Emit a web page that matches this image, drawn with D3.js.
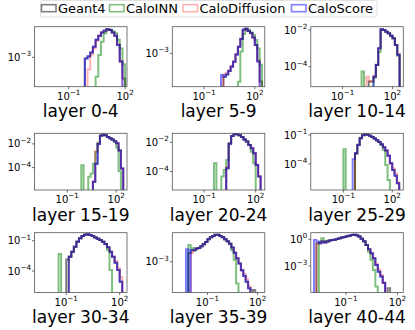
<!DOCTYPE html>
<html><head><meta charset="utf-8">
<script src="https://cdn.jsdelivr.net/npm/d3@7"></script>
<style>body{margin:0;background:#fff} svg{display:block} text{font-family:"DejaVu Sans",sans-serif;fill:#000}</style>
</head><body><svg id="chart" width="415" height="330"></svg>
<script>
const layers = ["layer 0-4","layer 5-9","layer 10-14","layer 15-19","layer 20-24","layer 25-29","layer 30-34","layer 35-39","layer 40-44"];
const seriesNames = ["Geant4","CaloINN","CaloDiffusion","CaloScore"];
const binsPerDecade = 7;
const firstBin = [-1, 0, 1, -1, -3, -7, -10, -16, -20];

const geant4 = [
 [9.3e-4,1.05e-3,1.38e-3,2.0e-3,3.16e-3,4.17e-3,5.13e-3,5.75e-3,6.31e-3,6.03e-3,5.13e-3,4.17e-3,2.24e-3,7.6e-4,2.5e-4],
 [0,2.14e-4,2.5e-4,3.16e-4,4.17e-4,5.75e-4,9.3e-4,1.55e-3,2.57e-3,4.68e-3,5.0e-3,4.37e-3,3.8e-3,2.82e-3,1.74e-3,6.3e-4,1.58e-4,0],
 [0,0,0,1.58e-5,1.58e-5,2.8e-5,1.23e-4,1.0e-3,1.1e-2,1.0e-2,8.1e-3,6.6e-3,4.9e-3,3.55e-3,1.51e-3,4.4e-4],
 [0,0,0,0,0,6.3e-6,2.14e-4,1.0e-2,4.9e-2,6.0e-2,5.25e-2,3.8e-2,2.95e-2,2.29e-2,1.66e-2,1.15e-2,2.75e-3,8.3e-5],
 [0,0,0,0,0,1.7e-4,7.8e-3,2.7e-2,3.7e-2,3.55e-2,3.0e-2,2.29e-2,1.58e-2,1.12e-2,6.6e-3,3.9e-3,1.78e-3,2.8e-4,4.6e-5],
 [0,0,0,0,0,1.26e-3,9.3e-3,4.6e-2,9.3e-2,0.117,0.107,8.5e-2,6.2e-2,4.2e-2,2.8e-2,1.9e-2,1.07e-2,5.2e-3,2.4e-3,7.2e-4,1.17e-4,2.4e-5,5.8e-6,1.0e-6],
 [0,0,0,1.41e-3,2.63e-3,8.1e-3,2.57e-2,7.9e-2,0.17,0.29,0.39,0.43,0.36,0.29,0.21,0.16,0.117,7.9e-2,4.7e-2,2.19e-2,8.1e-3,2.63e-3,6.6e-4,1.26e-4,8.7e-6],
 [0,1.78e-3,2.14e-3,2.14e-3,2.4e-3,2.5e-3,2.8e-3,3.16e-3,3.7e-3,4.4e-3,5.0e-3,5.5e-3,5.9e-3,5.9e-3,5.5e-3,5.0e-3,4.4e-3,3.9e-3,3.3e-3,2.57e-3,1.82e-3,1.26e-3,8.9e-4,5.75e-4,3.9e-4,2.7e-4,1.74e-4,0,1.55e-4],
 [0,0.355,0.355,0.55,0.43,0.55,0.71,0.85,0.91,1.1,1.29,1.55,1.82,2.19,2.57,3.09,3.31,2.82,2.0,1.17,0.6,0.23,0.076,0.027,7.4e-3,1.32e-3,2.3e-4,6.5e-5,1.35e-5,0,3.16e-6]
];
const caloINN = [
 [0,0,0,0,2.8e-4,1.17e-3,2.8e-3,4.9e-3,6.2e-3,6.2e-3,5.6e-3,4.9e-3,3.16e-3,1.8e-3,6.3e-4],
 [0,0,0,0,0,0,0,1.55e-4,1.12e-3,3.55e-3,5.0e-3,4.68e-3,3.98e-3,3.39e-3,2.4e-3,1.38e-3,4.7e-4,0],
 [5.4e-5,0,0,0,0,2.5e-5,1.26e-4,6.3e-4,1.07e-2,1.0e-2,8.1e-3,6.6e-3,4.9e-3,3.55e-3,1.51e-3,4.0e-4],
 [1.55e-4,0,0,1.66e-5,3.16e-5,2.14e-4,2.04e-3,1.26e-2,5.0e-2,6.0e-2,5.25e-2,3.8e-2,2.95e-2,2.19e-2,1.51e-2,5.0e-3,5.0e-5,0],
 [3.7e-4,0,0,4.6e-5,1.29e-4,6.3e-4,8.5e-3,2.7e-2,3.7e-2,3.55e-2,3.0e-2,2.29e-2,1.58e-2,1.12e-2,6.6e-3,2.3e-3,3.7e-4,0,0],
 [3.3e-3,0,0,0,0,1.12e-3,1.0e-2,5.0e-2,0.1,0.117,0.107,8.5e-2,6.2e-2,4.2e-2,2.8e-2,1.9e-2,8.9e-3,2.8e-3,7.9e-5,2.2e-6,0,0,0,0],
 [4.8e-3,0,0,0,2.63e-3,8.1e-3,2.57e-2,7.9e-2,0.17,0.29,0.39,0.43,0.36,0.29,0.21,0.16,0.117,7.9e-2,4.7e-2,1.2e-2,1.26e-4,0,0,0,0],
 [0,3.0e-3,2.5e-3,2.14e-3,2.4e-3,2.5e-3,2.8e-3,3.16e-3,3.7e-3,4.4e-3,5.0e-3,5.5e-3,5.9e-3,5.9e-3,5.5e-3,5.0e-3,4.4e-3,3.9e-3,3.3e-3,2.14e-3,1.12e-3,2.4e-4,0,0,0,0,0,0,0],
 [0,0,0.5,1.29,0.63,0.55,0.71,0.85,0.91,1.1,1.29,1.55,1.82,2.19,2.57,3.09,3.31,2.82,2.0,1.17,0.6,0.23,0.04,4.8e-3,3.5e-4,5.0e-6,0,0,0,0,0]
];
const caloDiffusion = [
 [0,4.5e-4,1.2e-3,1.8e-3,3.0e-3,4.1e-3,5.13e-3,5.75e-3,6.31e-3,6.03e-3,5.13e-3,4.17e-3,2.35e-3,7.9e-4,0],
 [0,2.5e-4,2.8e-4,3.3e-4,4.4e-4,6.0e-4,9.5e-4,1.58e-3,2.63e-3,4.68e-3,5.0e-3,4.37e-3,3.8e-3,2.82e-3,1.74e-3,6.0e-4,0,0],
 [0,0,2.8e-5,1.58e-5,1.58e-5,3.16e-5,1.26e-4,1.0e-3,1.1e-2,1.0e-2,8.1e-3,6.6e-3,4.9e-3,3.55e-3,1.58e-3,5.0e-4],
 [0,0,0,0,0,6.3e-6,2.5e-3,1.12e-2,4.9e-2,6.0e-2,5.25e-2,3.8e-2,2.95e-2,2.29e-2,1.66e-2,1.15e-2,2.75e-3,8.3e-5],
 [0,0,0,0,0,2.0e-4,8.0e-3,2.7e-2,3.7e-2,3.55e-2,3.0e-2,2.29e-2,1.58e-2,1.12e-2,6.6e-3,3.9e-3,1.78e-3,3.0e-4,5.0e-5],
 [0,0,0,0,0,1.26e-3,9.3e-3,4.6e-2,9.3e-2,0.117,0.107,8.5e-2,6.2e-2,4.2e-2,2.8e-2,1.9e-2,1.07e-2,5.2e-3,2.4e-3,7.2e-4,1.17e-4,3.55e-5,1.0e-5,1.26e-6],
 [0,0,0,0,2.63e-3,8.1e-3,2.57e-2,7.9e-2,0.17,0.29,0.39,0.43,0.36,0.29,0.21,0.16,0.117,7.9e-2,4.7e-2,2.19e-2,8.1e-3,2.63e-3,1.0e-3,2.0e-4,2.5e-5],
 [0,0,1.78e-3,2.14e-3,2.4e-3,2.5e-3,2.8e-3,3.16e-3,3.7e-3,4.4e-3,5.0e-3,5.5e-3,5.9e-3,5.9e-3,5.5e-3,5.0e-3,4.4e-3,3.9e-3,3.3e-3,2.57e-3,1.82e-3,1.26e-3,8.9e-4,5.75e-4,4.5e-4,3.16e-4,2.0e-4,0,0],
 [0,0.32,0.355,0.55,0.43,0.55,0.71,0.85,0.91,1.1,1.29,1.55,1.82,2.19,2.57,3.09,3.31,2.82,2.0,1.17,0.6,0.23,0.076,0.027,7.4e-3,1.78e-3,4.0e-4,1.0e-4,1.26e-5,0,0]
];
const caloScore = [
 [9.3e-4,1.07e-3,1.38e-3,2.0e-3,3.16e-3,4.17e-3,5.13e-3,5.75e-3,6.31e-3,6.03e-3,5.13e-3,4.17e-3,2.24e-3,7.6e-4,0],
 [2.4e-4,2.14e-4,2.5e-4,3.16e-4,4.17e-4,5.75e-4,9.3e-4,1.55e-3,2.57e-3,4.68e-3,5.0e-3,4.37e-3,3.8e-3,2.82e-3,1.74e-3,5.75e-4,0,0],
 [0,0,0,0,0,2.8e-5,1.23e-4,1.0e-3,1.1e-2,1.0e-2,8.1e-3,6.6e-3,4.9e-3,3.55e-3,1.51e-3,4.4e-4],
 [0,0,0,0,0,6.3e-6,2.14e-4,1.0e-2,4.9e-2,6.0e-2,5.25e-2,3.8e-2,2.95e-2,2.29e-2,1.66e-2,1.15e-2,2.75e-3,8.3e-5],
 [0,0,0,0,0,1.7e-4,7.8e-3,2.7e-2,3.7e-2,3.55e-2,3.0e-2,2.29e-2,1.58e-2,1.12e-2,6.6e-3,3.9e-3,1.78e-3,2.8e-4,4.6e-5],
 [0,0,0,0,3.0e-4,1.26e-3,9.3e-3,4.6e-2,9.3e-2,0.117,0.107,8.5e-2,6.2e-2,4.2e-2,2.8e-2,1.9e-2,1.07e-2,5.2e-3,2.4e-3,7.2e-4,1.17e-4,2.4e-5,5.8e-6,1.0e-6],
 [0,0,0,0,2.63e-3,8.1e-3,2.57e-2,7.9e-2,0.17,0.29,0.39,0.43,0.36,0.29,0.21,0.16,0.117,7.9e-2,4.7e-2,2.19e-2,8.1e-3,2.63e-3,6.6e-4,1.26e-4,8.7e-6],
 [2.3e-3,0,2.14e-3,2.14e-3,2.4e-3,2.5e-3,2.8e-3,3.16e-3,3.7e-3,4.4e-3,5.0e-3,5.5e-3,5.9e-3,5.9e-3,5.5e-3,5.0e-3,4.4e-3,3.9e-3,3.3e-3,2.57e-3,1.82e-3,1.26e-3,8.9e-4,5.75e-4,3.9e-4,2.7e-4,1.74e-4,0,0],
 [0.85,0.55,0.355,0.55,0.43,0.55,0.71,0.85,0.91,1.1,1.29,1.55,1.82,2.19,2.57,3.09,3.31,2.82,2.0,1.17,0.6,0.23,0.076,0.027,7.4e-3,1.32e-3,2.3e-4,6.5e-5,1.35e-5,0,0]
];

const xLimits = [[1.51e-3,126],[1.32e-3,389],[1.23e-3,447],[9.8e-4,457],[1.41e-3,339],[1.0e-3,479],[1.66e-3,257],[7.9e-4,269],[9.1e-4,219]];
const yLimits = [[1.45e-4,7.5e-3],[1.12e-4,5.75e-3],[8.1e-6,1.51e-2],[1.29e-6,7.8e-2],[5.6e-6,4.1e-2],[2.0e-7,0.148],[7.4e-7,0.62],[1.32e-4,6.8e-3],[1.05e-6,5.5]];
const xTickValues = [1e-1, 1e2];
const yTickValues = [[1e-3],[1e-3],[1e-2,1e-4],[1e-2,1e-4],[1e-2,1e-4],[1e-1,1e-4],[1e-1,1e-4],[1e-3],[1e0,1e-3]];

const series = [
 {name: seriesNames[0], color: "#000000", op: 0.5, data: geant4},
 {name: seriesNames[1], color: "#008000", op: 0.5, data: caloINN},
 {name: seriesNames[2], color: "#ff0000", op: 0.3, data: caloDiffusion},
 {name: seriesNames[3], color: "#0000ff", op: 0.5, data: caloScore}
];

const svg = d3.select("#chart");
const colLeft = [34.5, 172.3, 310.8], panelW = 92.5;
const rowTop = [26.7, 133.3, 232.7], rowBottom = [86.7, 190, 292.5];

function powLabel(sel, v) {
  const e = Math.round(Math.log10(v));
  sel.append("tspan").text("10");
  sel.append("tspan").attr("dy", -4.6).attr("font-size", 7.2).text(e < 0 ? "\u2212" + (-e) : String(e));
}

layers.forEach((label, p) => {
  const r = Math.floor(p / 3), c = p % 3;
  const L = colLeft[c], R = L + panelW, T = rowTop[r], B = rowBottom[r];
  const x = d3.scaleLog().domain(xLimits[p]).range([L, R]);
  const y = d3.scaleLog().domain(yLimits[p]).range([B, T]);
  svg.append("clipPath").attr("id", "clip" + p).append("rect")
    .attr("x", L).attr("y", T).attr("width", R - L).attr("height", B - T);
  const g = svg.append("g").attr("clip-path", `url(#clip${p})`);
  const n = geant4[p].length;
  const edges = d3.range(n + 1).map(i => Math.pow(10, (firstBin[p] + i) / binsPerDecade));
  const low = B + 4;
  series.forEach(s => {
    const vals = s.data[p];
    const pts = [[x(edges[0]), low]];
    vals.forEach((v, i) => {
      const yy = v > 0 ? y(v) : low;
      pts.push([x(edges[i]), yy], [x(edges[i + 1]), yy]);
    });
    pts.push([x(edges[n]), low]);
    g.append("path").attr("d", d3.line()(pts))
      .attr("fill", "none").attr("stroke", s.color).attr("stroke-opacity", s.op)
      .attr("stroke-width", 2).attr("stroke-linejoin", "miter");
  });
  svg.append("rect").attr("x", L).attr("y", T).attr("width", R - L).attr("height", B - T)
    .attr("fill", "none").attr("stroke", "#555").attr("stroke-width", 0.8);
  xTickValues.forEach(t => {
    const tx = x(t);
    svg.append("line").attr("x1", tx).attr("x2", tx).attr("y1", B).attr("y2", B + 2.5)
      .attr("stroke", "#333").attr("stroke-width", 0.7);
    const tl = svg.append("text").attr("x", tx).attr("y", B + 13)
      .attr("text-anchor", "middle").attr("font-size", 10);
    powLabel(tl, t);
  });
  yTickValues[p].forEach(t => {
    const ty = y(t);
    svg.append("line").attr("x1", L - 2.5).attr("x2", L).attr("y1", ty).attr("y2", ty)
      .attr("stroke", "#333").attr("stroke-width", 0.7);
    const tl = svg.append("text").attr("x", L - 3.5).attr("y", ty + 3.6)
      .attr("text-anchor", "end").attr("font-size", 10);
    powLabel(tl, t);
  });
  svg.append("text").attr("x", (L + R) / 2).attr("y", B + 30.5)
    .attr("text-anchor", "middle").attr("font-size", 17).text(label);
});

// legend
const lg = svg.append("g");
lg.append("rect").attr("x", 40.5).attr("y", 0.5).attr("width", 336.5).attr("height", 16.5)
  .attr("rx", 2).attr("fill", "#fff").attr("stroke", "#d9d9d9").attr("stroke-width", 0.8);
const textX = [58, 126, 199.5, 308];
series.forEach((s, i) => {
  lg.append("rect").attr("x", textX[i] - 16.5).attr("y", 4.7).attr("width", 14.5).attr("height", 7)
    .attr("fill", "none").attr("stroke", s.color).attr("stroke-opacity", s.op).attr("stroke-width", 1.6);
  lg.append("text").attr("x", textX[i]).attr("y", 12.6).attr("font-size", 13).text(s.name);
});
</script></body></html>
